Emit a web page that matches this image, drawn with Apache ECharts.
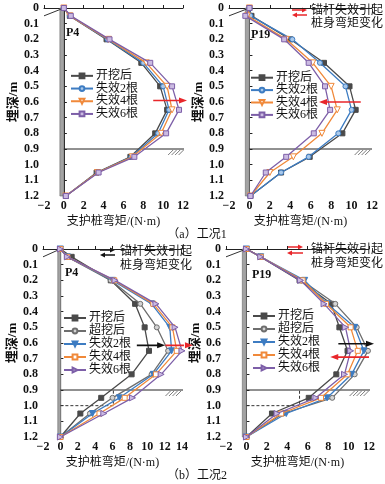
<!DOCTYPE html>
<html><head><meta charset="utf-8">
<script src="https://cdn.jsdelivr.net/npm/echarts@6/dist/echarts.min.js"></script>
<style>html,body{margin:0;padding:0;background:#fff}#c{width:385px;height:484px}</style>
</head><body><div id="c"></div>
<script>
// ---------- data ----------
const depth = [0, 0.05, 0.2, 0.35, 0.5, 0.65, 0.8, 0.95, 1.05, 1.2];

// (a) 工况1, P4
const a1_kw = [0, 0.6, 4.3, 7.8, 9.7, 10.4, 9.2, 6.7, 3.3, 0.2];
const a1_s2 = [0, 0.6, 4.4, 8.0, 10.0, 10.6, 9.5, 6.8, 3.4, 0.2];
const a1_s4 = [0, 0.6, 4.5, 8.3, 10.4, 10.9, 9.8, 6.9, 3.4, 0.2];
const a1_s6 = [0, 0.7, 4.6, 8.7, 10.9, 11.6, 10.3, 7.1, 3.5, 0.2];
// (a) 工况1, P19
const a2_kw = [0, 0.2, 4.0, 7.3, 9.8, 10.4, 9.1, 5.9, 3.1, 0.1];
const a2_s2 = [0, 0.1, 4.2, 6.9, 9.4, 10.0, 8.7, 5.8, 3.1, 0.1];
const a2_s4 = [0, -0.2, 3.6, 6.2, 8.0, 8.6, 7.1, 4.3, 2.0, 0.1];
const a2_s6 = [0, -0.4, 3.4, 5.8, 7.4, 7.9, 6.3, 3.6, 1.6, 0.1];
// (b) 工况2, P4
const b1_kw = [0, 1.3, 5.8, 8.6, 9.7, 10.2, 8.2, 4.7, 2.3, 0];
const b1_cw = [0, 0.8, 5.8, 9.2, 11.1, 12.4, 10.5, 6.0, 3.4, 0];
const b1_s2 = [0, 0.8, 6.0, 10.5, 12.6, 12.8, 10.7, 6.8, 3.7, 0];
const b1_s4 = [0, 0.8, 6.2, 10.7, 12.9, 13.4, 11.0, 7.4, 4.5, 0];
const b1_s6 = [0, 0.8, 6.3, 11.0, 13.2, 14.0, 11.6, 8.3, 5.0, 0];
// (b) 工况2, P19
const b2_kw = [0, 1.4, 5.2, 8.3, 9.1, 9.9, 8.8, 6.1, 2.5, 0];
const b2_cw = [0, 1.4, 5.4, 8.7, 10.8, 11.9, 10.6, 8.4, 3.6, 0];
const b2_s2 = [0, 1.4, 5.7, 7.9, 10.6, 11.5, 10.3, 7.9, 3.9, 0];
const b2_s4 = [0, 1.4, 5.5, 7.8, 10.2, 10.9, 9.9, 7.3, 3.4, 0];
const b2_s6 = [0, 1.4, 5.3, 7.6, 9.7, 10.2, 9.6, 6.8, 3.0, 0];

const namesA = ['开挖后', '失效2根', '失效4根', '失效6根'];
const namesB = ['开挖后', '超挖后', '失效2根', '失效4根', '失效6根'];
const pileLabels = ['P4', 'P19', 'P4', 'P19'];
const xMax = [12, 12, 14, 12];
const pileX = [[-0.4, 0], [-0.4, 0], [-0.3, 0.05], [-0.4, 0]];
const anchorEnd = [-2, 0.05];
const groundDepth = 0.9;
const groundEnd = [12.5, 12, 14.3, 12.1];
const hatchRange = [[10.5, 12.4], [10.3, 12], [12.1, 14.2], [10.1, 12.1]];
const excavDepth = 1.0;
const excavX = [null, null, 6.1, 5.2];
// arrows: [panel, xStart, xEnd, depth, colour]
const arrows = [
  [0, 9.0, 12.0, 0.59, 'red'],
  [1, 10.9, 7.2, 0.6, 'red'],
  [2, 8.8, 11.6, 0.615, 'black'],
  [2, 12.1, 14.8, 0.615, 'red'],
  [3, 9.0, 12.1, 0.605, 'black'],
  [3, 12.0, 8.6, 0.69, 'red']
];

// ---------- styles ----------
const FONT = "'Liberation Serif','Noto Sans CJK SC',serif";
const RED = '#e8262a';
const STY = {
  kw: {c: '#4a4a4a', sym: 'rect', s: 5, f: '#4a4a4a', r: 0},
  cw: {c: '#6e6e6e', sym: 'circle', s: 5, f: '#d4d4d4', r: 0},
  a2: {c: '#3d7cc2', sym: 'circle', s: 5, f: '#a9c8ea', r: 0},
  a4: {c: '#f0893a', sym: 'triangle', s: 6, f: '#ffffff', r: 180},
  a6: {c: '#7d5fa8', sym: 'rect', s: 5, f: '#cbbbe2', r: 0},
  b2: {c: '#3d7cc2', sym: 'triangle', s: 6, f: '#3d7cc2', r: 180},
  b4: {c: '#f0893a', sym: 'rect', s: 5, f: '#ffffff', r: 0},
  b6: {c: '#7d5fa8', sym: 'triangle', s: 6, f: '#cbbbe2', r: -90}
};
const panels = [
  {names: namesA, data: [a1_kw, a1_s2, a1_s4, a1_s6], sty: ['kw', 'a2', 'a4', 'a6']},
  {names: namesA, data: [a2_kw, a2_s2, a2_s4, a2_s6], sty: ['kw', 'a2', 'a4', 'a6']},
  {names: namesB, data: [b1_kw, b1_cw, b1_s2, b1_s4, b1_s6], sty: ['kw', 'cw', 'b2', 'b4', 'b6']},
  {names: namesB, data: [b2_kw, b2_cw, b2_s2, b2_s4, b2_s6], sty: ['kw', 'cw', 'b2', 'b4', 'b6']}
];
const grids = [
  {left: 44, top: 8, width: 139, height: 188},
  {left: 229, top: 8, width: 143, height: 188},
  {left: 43, top: 249, width: 139, height: 188},
  {left: 226, top: 249, width: 143, height: 188}
];
const legendPos = [
  {left: 70, top: 69.5, lh: 12.7},
  {left: 250, top: 71.5, lh: 12.4},
  {left: 63, top: 311.5, lh: 13},
  {left: 252, top: 309.5, lh: 13}
];
const yNameGap = [22, 23, 22, 17];

const series = [];
const legends = [];
const xAxes = [], yAxes = [];
panels.forEach((p, gi) => {
  xAxes.push({
    type: 'value', gridIndex: gi, min: -2, max: xMax[gi], interval: 2,
    name: '支护桩弯矩/(N·m)', nameLocation: 'middle', nameGap: 20,
    nameTextStyle: {fontFamily: FONT, fontSize: 12, color: '#111'},
    axisLine: {lineStyle: {color: '#222', width: 1}},
    axisTick: {inside: true, length: 3, lineStyle: {color: '#222'}},
    axisLabel: {fontFamily: FONT, fontSize: 12, fontWeight: 'bold', color: '#111', margin: 4,
      formatter: v => v < 0 ? '\u2212' + (-v) : String(v)},
    splitLine: {show: false}
  });
  yAxes.push({
    type: 'value', gridIndex: gi, inverse: true, min: 0, max: 1.2, interval: 0.1,
    name: '埋深/m', nameLocation: 'middle', nameGap: yNameGap[gi],
    nameTextStyle: {fontFamily: FONT, fontSize: 13, color: '#111', fontWeight: 'bold'},
    axisLine: {lineStyle: {color: '#222', width: 1}},
    axisTick: {inside: true, length: 3, lineStyle: {color: '#222'}},
    axisLabel: {fontFamily: FONT, fontSize: 12, fontWeight: 'bold', color: '#111', margin: 5,
      formatter: v => { const r = Math.round(v * 10) / 10; return r === 0 ? '0' : r.toFixed(1); }},
    splitLine: {show: false}
  });
  const legendNames = [];
  p.names.forEach((nm, si) => {
    const st = STY[p.sty[si]];
    const full = 'p' + gi + '|' + nm;
    legendNames.push(full);
    series.push({
      type: 'line', name: full, xAxisIndex: gi, yAxisIndex: gi,
      data: p.data[si].map((v, i) => [v, depth[i]]),
      symbol: st.sym, symbolSize: st.s, symbolRotate: st.r, showAllSymbol: true,
      lineStyle: {color: st.c, width: 1.3},
      itemStyle: {color: st.f, borderColor: st.c, borderWidth: 1},
      z: 5 + si, animation: false
    });
  });
  const lp = legendPos[gi];
  legends.push({
    data: legendNames, orient: 'vertical', left: lp.left, top: lp.top, padding: 0,
    itemGap: 0, itemWidth: 22, itemHeight: 6, selectedMode: false,
    formatter: n => n.split('|')[1],
    textStyle: {fontFamily: FONT, fontSize: 12, color: '#111', lineHeight: lp.lh, padding: [0, 0, 0, -2]}
  });
  // ground line with pile as markArea
  series.push({
    type: 'line', xAxisIndex: gi, yAxisIndex: gi, clip: false, silent: true,
    data: [[0, groundDepth], [groundEnd[gi], groundDepth]],
    showSymbol: false, symbol: 'none', lineStyle: {color: '#222', width: 1}, z: 2, animation: false,
    markArea: {silent: true, itemStyle: {color: '#a3a3a3', borderColor: '#6a6a6a', borderWidth: 0.6},
      data: [[{coord: [pileX[gi][0], 0]}, {coord: [pileX[gi][1], 1.2]}]]}
  });
  // anchor rod
  series.push({
    type: 'line', xAxisIndex: gi, yAxisIndex: gi, clip: false, silent: true,
    data: [[0, 0], anchorEnd], showSymbol: false, symbol: 'none',
    lineStyle: {color: '#333', width: 1}, z: 2, animation: false
  });
  if (excavX[gi] !== null) {
    series.push({
      type: 'line', xAxisIndex: gi, yAxisIndex: gi, silent: true,
      data: [[0, excavDepth], [excavX[gi], excavDepth], [excavX[gi], groundDepth]],
      showSymbol: false, symbol: 'none',
      lineStyle: {color: '#333', width: 1, type: [3, 2]}, z: 2, animation: false
    });
  }
  // arrows
  arrows.filter(a => a[0] === gi).forEach(a => {
    const col = a[4] === 'red' ? RED : '#111';
    const rot = a[2] > a[1] ? -90 : 90;
    series.push({
      type: 'line', xAxisIndex: gi, yAxisIndex: gi, clip: false, silent: true,
      showAllSymbol: true,
      data: [{value: [a[1], a[3]], symbol: 'none'},
             {value: [a[2], a[3]], symbol: 'triangle', symbolSize: [6, 8], symbolRotate: rot}],
      lineStyle: {color: col, width: 1.6}, itemStyle: {color: col, borderWidth: 0},
      z: 20, animation: false
    });
  });
  // ground hatch
  series.push({
    type: 'custom', xAxisIndex: gi, yAxisIndex: gi, silent: true, clip: false,
    encode: {x: [0, 1], y: 2},
    data: [[hatchRange[gi][0], hatchRange[gi][1], groundDepth]],
    renderItem: (params, api) => {
      const p1 = api.coord([api.value(0), api.value(2)]);
      const p2 = api.coord([api.value(1), api.value(2)]);
      const ch = [];
      for (let x = p1[0]; x <= p2[0] - 5; x += 3.5) {
        ch.push({type: 'line', shape: {x1: x, y1: p1[1] + 6, x2: x + 5, y2: p1[1] + 1},
          style: {stroke: '#444', lineWidth: 0.7}});
      }
      return {type: 'group', children: ch};
    }, z: 1, animation: false
  });
});

// pile labels and captions as titles
const titles = [
  {text: pileLabels[0], left: 66, top: 27},
  {text: pileLabels[1], left: 251, top: 29},
  {text: pileLabels[2], left: 65, top: 267},
  {text: pileLabels[3], left: 252, top: 269}
].map(t => Object.assign(t, {padding: 0, textStyle: {fontFamily: FONT, fontSize: 12, fontWeight: 'bold', color: '#111'}}));
titles.push({text: '（a）工况1', left: 197, top: 229, textAlign: 'center', padding: 0,
  textStyle: {fontFamily: FONT, fontSize: 12, fontWeight: 'normal', color: '#111'}});
titles.push({text: '（b）工况2', left: 197, top: 470, textAlign: 'center', padding: 0,
  textStyle: {fontFamily: FONT, fontSize: 12, fontWeight: 'normal', color: '#111'}});

// arrow legends (decoration)
function arrowIcon(x1, x2, y, col) {
  const dir = x2 > x1 ? 1 : -1;
  return [
    {type: 'line', shape: {x1: x1, y1: y, x2: x2 - dir * 3, y2: y}, style: {stroke: col, lineWidth: 1.5}},
    {type: 'polygon', shape: {points: [[x2, y], [x2 - dir * 5, y - 2.5], [x2 - dir * 5, y + 2.5]]}, style: {fill: col}}
  ];
}
function noteText(x, y1, y2) {
  return [
    {type: 'text', left: x, top: y1, style: {text: '锚杆失效引起', font: "12px 'Noto Sans CJK SC'", fill: '#111'}},
    {type: 'text', left: x, top: y2, style: {text: '桩身弯矩变化', font: "12px 'Noto Sans CJK SC'", fill: '#111'}}
  ];
}
const graphics = [].concat(
  arrowIcon(292, 307, 10, RED), arrowIcon(307, 292, 15, RED), noteText(311, 3, 16),
  arrowIcon(100, 115, 250, '#111'), arrowIcon(115, 100, 255, '#111'), noteText(120, 244, 258),
  arrowIcon(287, 303, 247, RED), arrowIcon(303, 287, 253, RED), noteText(311, 242, 256)
);

const chart = echarts.init(document.getElementById('c'), null, {renderer: 'canvas'});
chart.setOption({
  animation: false,
  backgroundColor: '#fff',
  title: titles,
  grid: grids,
  xAxis: xAxes,
  yAxis: yAxes,
  legend: legends,
  series: series,
  graphic: graphics
});
</script>
</body></html>
